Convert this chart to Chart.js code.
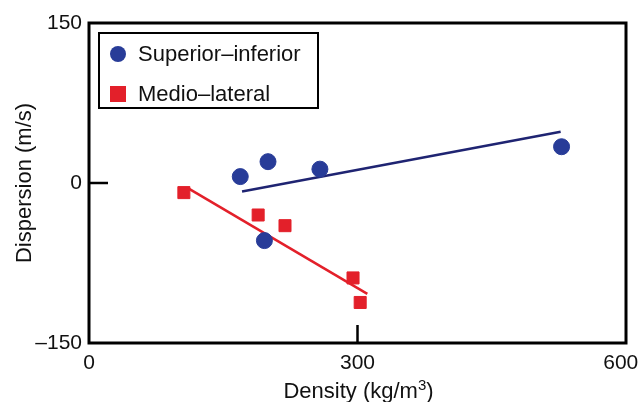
<!DOCTYPE html>
<html><head><meta charset="utf-8">
<script src="https://cdn.jsdelivr.net/npm/chart.js@4.4.1/dist/chart.umd.min.js"></script>
<style>html,body{margin:0;padding:0;background:#fff}#wrap{width:639px;height:402px}</style>
</head><body><div id="wrap"><canvas id="c" width="639" height="402"></canvas></div>
<script>
// Data
const siLabel = 'Superior–inferior';
const siX = [169, 196, 200, 258, 528];
const siY = [6, -54, 20, 13, 34];
const siFitX = [171, 527];
const siFitY = [-8, 48];

const mlLabel = 'Medio–lateral';
const mlX = [106, 189, 219, 295, 303];
const mlY = [-9, -30, -40, -89, -112];
const mlFitX = [111, 311];
const mlFitY = [-5, -104];

const xTicks = [0, 300, 600];
const yTicks = [-150, 0, 150];
const innerTicksX = [300];
const innerTicksY = [0];
const xTitleParts = ['Density (kg/m', '3', ')'];
const yTitle = 'Dispersion (m/s)';

const BLUE = '#283c98', NAVY = '#1f2472', RED = '#e3202a';
const FONT = '"Liberation Sans", Arial, Helvetica, sans-serif';

const pts = (xs, ys) => xs.map((x, i) => ({x, y: ys[i]}));

const framePlugin = {
  id: 'frame',
  afterDraw(chart) {
    const {ctx, chartArea: a, scales: {x, y}} = chart;
    ctx.save();
    ctx.strokeStyle = '#000';
    ctx.lineWidth = 3;
    ctx.strokeRect(a.left, a.top, a.right - a.left, a.bottom - a.top);
    ctx.lineWidth = 2.5;
    innerTicksY.forEach(v => {
      const py = y.getPixelForValue(v);
      ctx.beginPath(); ctx.moveTo(a.left, py); ctx.lineTo(a.left + 19, py); ctx.stroke();
    });
    innerTicksX.forEach(v => {
      const px = x.getPixelForValue(v);
      ctx.beginPath(); ctx.moveTo(px, a.bottom); ctx.lineTo(px, a.bottom - 18); ctx.stroke();
    });
    // x axis title with superscript
    ctx.fillStyle = '#111';
    ctx.textBaseline = 'alphabetic';
    ctx.textAlign = 'left';
    const big = '22px ' + FONT, small = '15px ' + FONT;
    ctx.font = big; const w0 = ctx.measureText(xTitleParts[0]).width, w2 = ctx.measureText(xTitleParts[2]).width;
    ctx.font = small; const w1 = ctx.measureText(xTitleParts[1]).width;
    let tx = (a.left + a.right) / 2 - (w0 + w1 + w2) / 2 + 1;
    const by = 398;
    ctx.font = big; ctx.fillText(xTitleParts[0], tx, by); tx += w0;
    ctx.font = small; ctx.fillText(xTitleParts[1], tx, by - 8); tx += w1;
    ctx.font = big; ctx.fillText(xTitleParts[2], tx, by);
    // legend
    const lx = a.left + 10, ly = a.top + 10, lw = 219, lh = 75;
    ctx.lineWidth = 2;
    ctx.strokeRect(lx, ly, lw, lh);
    const ds = chart.data.datasets;
    ctx.font = '22px ' + FONT;
    ctx.textBaseline = 'middle';
    ctx.fillStyle = BLUE;
    ctx.beginPath(); ctx.arc(lx + 19, ly + 21, 8, 0, Math.PI * 2); ctx.fill();
    ctx.fillStyle = '#111';
    ctx.fillText(ds[0].label, lx + 39, ly + 22);
    ctx.fillStyle = RED;
    ctx.fillRect(lx + 11, ly + 53, 16, 16);
    ctx.fillStyle = '#111';
    ctx.fillText(ds[1].label, lx + 39, ly + 62);
    ctx.restore();
  }
};

new Chart(document.getElementById('c'), {
  type: 'scatter',
  data: {
    datasets: [
      {label: siLabel, data: pts(siX, siY), backgroundColor: BLUE, borderColor: BLUE, pointStyle: 'circle', pointRadius: 8, pointHoverRadius: 8, order: 1},
      {label: mlLabel, data: pts(mlX, mlY), backgroundColor: RED, borderColor: RED, pointStyle: 'rect', pointRadius: 8.5, pointHoverRadius: 8.5, order: 1},
      {type: 'line', label: 'fit1', data: pts(siFitX, siFitY), borderColor: NAVY, borderWidth: 2.5, pointRadius: 0, fill: false, order: 2},
      {type: 'line', label: 'fit2', data: pts(mlFitX, mlFitY), borderColor: RED, borderWidth: 2.5, pointRadius: 0, fill: false, order: 2}
    ]
  },
  options: {
    responsive: false,
    animation: false,
    events: [],
    layout: {padding: {top: 23, right: 13, left: 0, bottom: 0}},
    plugins: {legend: {display: false}, tooltip: {enabled: false}},
    scales: {
      x: {
        type: 'linear', min: 0, max: 600,
        afterBuildTicks: s => { s.ticks = xTicks.map(v => ({value: v})); },
        afterFit: s => { s.height = 59; s.paddingLeft = 0; s.paddingRight = 0; },
        grid: {display: false, drawTicks: false},
        border: {display: false},
        ticks: {color: '#111', font: {family: FONT, size: 21}, padding: 8, maxRotation: 0,
          callback: v => (v === 600 ? String(v) + '\u2002' : String(v))},
        title: {display: false}
      },
      y: {
        type: 'linear', min: -150, max: 150,
        afterBuildTicks: s => { s.ticks = yTicks.map(v => ({value: v})); },
        afterFit: s => { s.width = 89; s.paddingTop = 0; s.paddingBottom = 0; },
        grid: {display: false, drawTicks: false},
        border: {display: false},
        ticks: {color: '#111', font: {family: FONT, size: 21}, padding: 7,
          callback: v => (v < 0 ? '–' + Math.abs(v) : String(v))},
        title: {display: true, text: yTitle, color: '#111', font: {family: FONT, size: 22}, padding: {top: 12, bottom: 0}}
      }
    }
  },
  plugins: [framePlugin]
});
</script></body></html>
